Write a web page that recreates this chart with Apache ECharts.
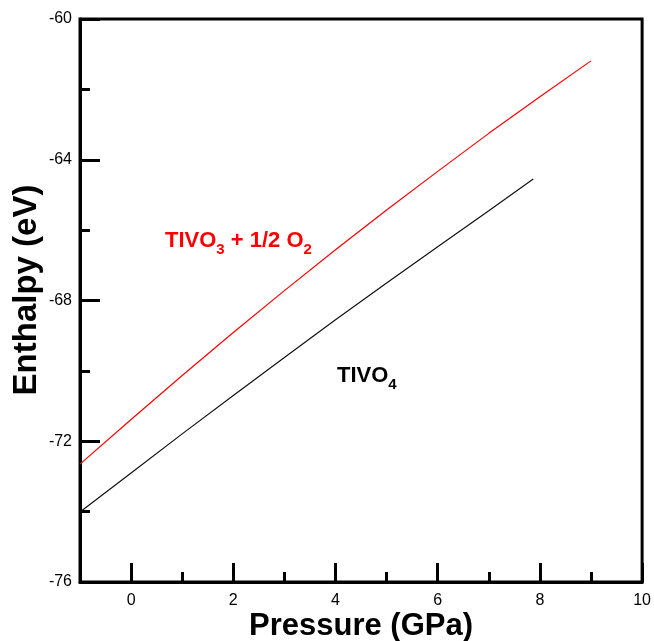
<!DOCTYPE html>
<html>
<head>
<meta charset="utf-8">
<script src="https://cdn.jsdelivr.net/npm/echarts@6/dist/echarts.min.js"></script>
<style>
  html, body { margin: 0; padding: 0; background: #fff; }
  #chart { width: 654px; height: 641px; }
</style>
</head>
<body>
<div id="chart"></div>
<script>
// Enthalpy of the two phases as a function of pressure
const pressureO3 = [-1, 0, 1, 2, 3, 4, 5, 6, 7, 8, 9];
const enthalpyO3 = [-72.65, -71.38, -70.13, -68.91, -67.72, -66.56, -65.43, -64.33, -63.25, -62.21, -61.19];

const pressureO4 = [-1, 0, 1, 2, 3, 4, 5, 6, 7, 7.87];
const enthalpyO4 = [-74.01, -72.90, -71.79, -70.70, -69.62, -68.55, -67.50, -66.47, -65.45, -64.55];

const xMajorTicks = [0, 2, 4, 6, 8, 10];
const xMinorTicks = [1, 3, 5, 7, 9];

const FONT = '"Liberation Sans", Arial, sans-serif';

function pairs(xs, ys) {
  return xs.map((x, i) => [x, ys[i]]);
}

const chart = echarts.init(document.getElementById('chart'), null, { renderer: 'canvas' });

const axisLineStyle = { color: '#000', width: 3 };

chart.setOption({
  animation: false,
  backgroundColor: '#fff',
  grid: {
    left: 80, top: 19, right: 11, bottom: 59,
    show: true, borderColor: '#000', borderWidth: 3, backgroundColor: 'transparent'
  },
  xAxis: [
    {
      type: 'value', min: -1, max: 10,
      axisLine: { show: true, onZero: false, lineStyle: axisLineStyle },
      axisTick: { show: true, inside: true, length: 19, lineStyle: axisLineStyle, customValues: xMajorTicks },
      axisLabel: { show: true, margin: 11, color: '#000', fontSize: 16, fontFamily: FONT, customValues: xMajorTicks },
      splitLine: { show: false }
    },
    {
      type: 'value', min: -1, max: 10, position: 'bottom',
      axisLine: { show: false },
      axisTick: { show: true, inside: true, length: 10, lineStyle: axisLineStyle, customValues: xMinorTicks },
      axisLabel: { show: false },
      splitLine: { show: false }
    }
  ],
  yAxis: {
    type: 'value', min: -76, max: -60, interval: 4,
    axisLine: { show: true, onZero: false, lineStyle: axisLineStyle },
    axisTick: { show: true, inside: true, length: 20, lineStyle: axisLineStyle },
    minorTick: { show: true, splitNumber: 2, length: 10, lineStyle: axisLineStyle },
    axisLabel: { show: true, margin: 8, color: '#000', fontSize: 16, fontFamily: FONT },
    splitLine: { show: false },
    minorSplitLine: { show: false }
  },
  series: [
    {
      name: 'TIVO3 + 1/2 O2', type: 'line', xAxisIndex: 0,
      data: pairs(pressureO3, enthalpyO3),
      showSymbol: false, smooth: false,
      lineStyle: { color: '#ff0000', width: 1.2 }
    },
    {
      name: 'TIVO4', type: 'line', xAxisIndex: 0,
      data: pairs(pressureO4, enthalpyO4),
      showSymbol: false, smooth: false,
      lineStyle: { color: '#111', width: 1.2 }
    }
  ],
  graphic: [
    {
      type: 'text', x: 361, y: 626,
      style: {
        text: 'Pressure (GPa)', fill: '#000',
        font: 'bold 31px ' + FONT, textAlign: 'center', textVerticalAlign: 'middle'
      }
    },
    {
      type: 'text', x: 27, y: 290, rotation: Math.PI / 2,
      style: {
        text: 'Enthalpy (eV)', fill: '#000',
        font: 'bold 33px ' + FONT, textAlign: 'center', textVerticalAlign: 'middle'
      }
    },
    {
      type: 'text', x: 165, y: 241,
      style: {
        text: '{m|TIVO}{s|3}{m| + 1/2 O}{s|2}',
        textAlign: 'left', textVerticalAlign: 'middle',
        rich: {
          m: { fontSize: 22, fontWeight: 'bold', fontFamily: FONT, fill: '#ff0000', color: '#ff0000' },
          s: { fontSize: 15, fontWeight: 'bold', fontFamily: FONT, fill: '#ff0000', color: '#ff0000', padding: [18, 0, 0, 0] }
        }
      }
    },
    {
      type: 'text', x: 337, y: 376,
      style: {
        text: '{m|TIVO}{s|4}',
        textAlign: 'left', textVerticalAlign: 'middle',
        rich: {
          m: { fontSize: 22, fontWeight: 'bold', fontFamily: FONT, fill: '#000', color: '#000' },
          s: { fontSize: 15, fontWeight: 'bold', fontFamily: FONT, fill: '#000', color: '#000', padding: [18, 0, 0, 0] }
        }
      }
    }
  ]
});
</script>
</body>
</html>
